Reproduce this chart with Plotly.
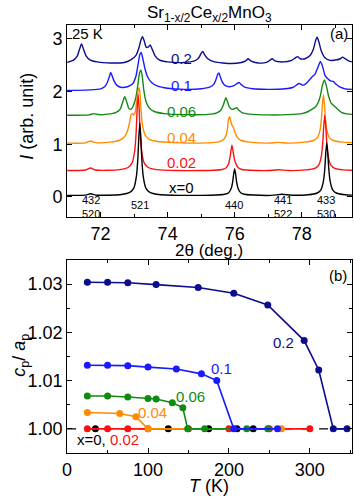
import plotly.graph_objects as go

# ---- panel (a): XRD profiles, 25 K (already stacked) ----
tt_x0 = [71.0, 71.55, 71.7, 71.85, 72.2, 72.62, 72.87, 72.99, 73.07, 73.11, 73.14, 73.17, 73.20, 73.23, 73.27, 73.35, 73.47, 73.72, 74.4, 75.0, 75.45, 75.70, 75.82, 75.90, 75.94, 75.97, 76.0, 76.03, 76.06, 76.10, 76.18, 76.30, 76.55, 77.1, 77.4, 77.7, 78.20, 78.45, 78.57, 78.65, 78.69, 78.72, 78.75, 78.78, 78.81, 78.85, 78.93, 79.05, 79.30, 79.5]
I_x0 = [0.03, 0.035, 0.06, 0.035, 0.033, 0.046, 0.085, 0.167, 0.40, 0.715, 1.126, 1.40, 1.126, 0.715, 0.40, 0.167, 0.085, 0.046, 0.03, 0.03, 0.036, 0.05, 0.08, 0.165, 0.28, 0.43, 0.53, 0.43, 0.28, 0.165, 0.08, 0.05, 0.036, 0.03, 0.05, 0.032, 0.042, 0.07, 0.13, 0.30, 0.53, 0.83, 1.03, 0.83, 0.53, 0.30, 0.13, 0.07, 0.042, 0.035]

tt_x002 = [71.0, 71.55, 71.7, 71.85, 72.2, 72.57, 72.82, 72.94, 73.02, 73.06, 73.09, 73.12, 73.15, 73.18, 73.22, 73.30, 73.42, 73.67, 74.3, 75.0, 75.37, 75.62, 75.74, 75.82, 75.86, 75.89, 75.92, 75.95, 75.98, 76.02, 76.10, 76.22, 76.47, 77.0, 77.3, 77.6, 78.14, 78.39, 78.51, 78.59, 78.63, 78.66, 78.69, 78.72, 78.75, 78.79, 78.87, 78.99, 79.24, 79.5]
I_x002 = [0.50, 0.51, 0.55, 0.51, 0.505, 0.517, 0.558, 0.645, 0.89, 1.225, 1.66, 1.95, 1.66, 1.225, 0.89, 0.645, 0.558, 0.517, 0.50, 0.50, 0.506, 0.52, 0.548, 0.63, 0.74, 0.88, 0.98, 0.88, 0.76, 0.66, 0.56, 0.52, 0.506, 0.50, 0.515, 0.50, 0.513, 0.542, 0.605, 0.78, 1.025, 1.34, 1.55, 1.34, 1.025, 0.78, 0.605, 0.542, 0.513, 0.505]

tt_x004 = [71.0, 71.55, 71.7, 71.85, 72.3, 72.55, 72.7, 72.8, 72.86, 72.91, 72.95, 72.99, 73.03, 73.07, 73.11, 73.15, 73.18, 73.21, 73.25, 73.33, 73.45, 73.7, 74.2, 75.0, 75.3, 75.55, 75.67, 75.75, 75.79, 75.82, 75.85, 75.88, 75.92, 75.96, 76.0, 76.08, 76.2, 76.45, 77.0, 77.3, 77.6, 78.1, 78.35, 78.47, 78.55, 78.59, 78.62, 78.65, 78.68, 78.71, 78.75, 78.83, 78.95, 79.2, 79.5]
I_x004 = [1.02, 1.025, 1.06, 1.03, 1.04, 1.07, 1.13, 1.25, 1.40, 1.56, 1.58, 1.55, 1.60, 1.78, 1.98, 2.07, 1.92, 1.62, 1.36, 1.17, 1.09, 1.05, 1.03, 1.02, 1.03, 1.05, 1.09, 1.18, 1.32, 1.48, 1.52, 1.44, 1.36, 1.32, 1.24, 1.13, 1.07, 1.04, 1.02, 1.035, 1.02, 1.04, 1.07, 1.12, 1.27, 1.48, 1.76, 1.94, 1.76, 1.48, 1.27, 1.12, 1.07, 1.04, 1.03]

tt_x006 = [71.0, 71.65, 71.8, 71.95, 72.2, 72.45, 72.58, 72.65, 72.72, 72.78, 72.84, 72.9, 72.97, 73.05, 73.11, 73.16, 73.2, 73.24, 73.29, 73.36, 73.46, 73.6, 73.9, 74.5, 75.2, 75.45, 75.58, 75.66, 75.70, 75.74, 75.79, 75.85, 75.92, 75.99, 76.06, 76.12, 76.22, 76.45, 77.0, 77.6, 78.0, 78.2, 78.3, 78.4, 78.5, 78.56, 78.62, 78.68, 78.74, 78.8, 78.88, 78.98, 79.08, 79.2, 79.35, 79.5]
I_x006 = [1.55, 1.555, 1.58, 1.56, 1.57, 1.60, 1.66, 1.78, 1.90, 1.80, 1.68, 1.66, 1.72, 1.88, 2.12, 2.35, 2.41, 2.30, 2.02, 1.80, 1.68, 1.62, 1.58, 1.56, 1.565, 1.59, 1.64, 1.74, 1.82, 1.88, 1.80, 1.70, 1.66, 1.67, 1.69, 1.65, 1.60, 1.57, 1.555, 1.56, 1.58, 1.62, 1.66, 1.70, 1.80, 1.92, 2.12, 2.22, 2.10, 1.92, 1.78, 1.72, 1.66, 1.60, 1.575, 1.565]

tt_x01 = [71.0, 71.7, 72.0, 72.12, 72.2, 72.26, 72.3, 72.34, 72.4, 72.48, 72.6, 72.8, 72.95, 73.05, 73.12, 73.17, 73.21, 73.26, 73.32, 73.4, 73.52, 73.7, 74.0, 74.5, 75.0, 75.25, 75.38, 75.45, 75.49, 75.53, 75.57, 75.63, 75.72, 75.85, 75.98, 76.07, 76.13, 76.2, 76.3, 76.55, 77.0, 77.5, 77.75, 77.92, 78.05, 78.18, 78.3, 78.4, 78.48, 78.56, 78.63, 78.7, 78.78, 78.86, 78.94, 79.02, 79.15, 79.3, 79.5]
I_x01 = [2.02, 2.03, 2.05, 2.09, 2.17, 2.28, 2.36, 2.30, 2.20, 2.12, 2.08, 2.09, 2.14, 2.28, 2.52, 2.70, 2.74, 2.62, 2.44, 2.28, 2.17, 2.10, 2.06, 2.04, 2.05, 2.08, 2.14, 2.24, 2.32, 2.35, 2.28, 2.18, 2.11, 2.09, 2.11, 2.15, 2.17, 2.13, 2.08, 2.05, 2.04, 2.05, 2.08, 2.15, 2.12, 2.18, 2.27, 2.33, 2.45, 2.57, 2.46, 2.30, 2.24, 2.20, 2.19, 2.14, 2.08, 2.05, 2.04]

tt_x02 = [71.0, 71.2, 71.3, 71.37, 71.43, 71.49, 71.56, 71.68, 71.9, 72.3, 72.7, 72.9, 73.05, 73.14, 73.2, 73.25, 73.3, 73.36, 73.42, 73.48, 73.54, 73.62, 73.75, 74.0, 74.5, 74.8, 74.92, 75.0, 75.05, 75.1, 75.2, 75.4, 75.9, 76.2, 76.33, 76.4, 76.48, 76.7, 76.95, 77.05, 77.12, 77.2, 77.45, 77.7, 77.82, 77.88, 77.96, 78.1, 78.25, 78.35, 78.41, 78.46, 78.51, 78.58, 78.68, 78.85, 79.05, 79.15, 79.22, 79.3, 79.4, 79.5]
I_x02 = [2.55, 2.60, 2.67, 2.80, 2.90, 2.80, 2.68, 2.60, 2.56, 2.54, 2.55, 2.60, 2.68, 2.82, 2.97, 3.04, 2.96, 2.84, 2.84, 2.88, 2.80, 2.68, 2.60, 2.56, 2.55, 2.58, 2.63, 2.72, 2.76, 2.70, 2.62, 2.56, 2.53, 2.55, 2.58, 2.62, 2.58, 2.54, 2.55, 2.59, 2.62, 2.58, 2.56, 2.59, 2.64, 2.66, 2.62, 2.62, 2.68, 2.80, 2.95, 3.03, 2.95, 2.78, 2.65, 2.59, 2.60, 2.62, 2.65, 2.62, 2.58, 2.56]

# Miller indices under the peaks
hkl_pos = [71.7, 73.18, 75.97, 77.44, 78.74]
hkl_text = ["432<br>520", "521", "440", "441<br>522", "433<br>530"]

# ---- panel (b): cp/ap vs T ----
T_02 = [25, 50, 75, 110, 162, 206, 248, 293, 311, 329, 346]
r_02 = [1.0304, 1.0304, 1.0303, 1.0299, 1.0293, 1.0281, 1.0257, 1.0183, 1.0122, 1.0000, 1.0000]
T_01 = [25, 50, 75, 100, 135, 166, 185, 206, 260]
r_01 = [1.0132, 1.0132, 1.0131, 1.0128, 1.0124, 1.0114, 1.0100, 1.0000, 1.0000]
T_006 = [25, 50, 75, 100, 110, 130, 143, 149, 170, 222, 248]
r_006 = [1.0068, 1.0068, 1.0066, 1.0063, 1.0062, 1.0054, 1.0044, 1.0000, 1.0000, 1.0000, 1.0000]
T_004 = [25, 65, 85, 100, 265]
r_004 = [1.0034, 1.0032, 1.0025, 1.0000, 1.0000]
T_002 = [25, 50, 75, 100, 150, 200, 250, 300]
r_002 = [1.0, 1.0, 1.0, 1.0, 1.0, 1.0, 1.0, 1.0]
T_0 = [35, 125, 175, 210, 230]
r_0 = [1.0, 1.0, 1.0, 1.0, 1.0]

NAVY = "#0c0c8e"
BLUE = "#1a1aff"
GREEN = "#128a12"
ORANGE = "#ff8c00"
RED = "#ff1010"
BLACK = "#000000"
FONT = "Liberation Sans, Arial, sans-serif"

fig = go.Figure()

xrd = [
    (tt_x02, I_x02, NAVY),
    (tt_x01, I_x01, BLUE),
    (tt_x006, I_x006, GREEN),
    (tt_x004, I_x004, ORANGE),
    (tt_x002, I_x002, RED),
    (tt_x0, I_x0, BLACK),
]
for xs, ys, col in xrd:
    fig.add_trace(go.Scatter(x=xs, y=ys, mode="lines", xaxis="x", yaxis="y",
                             line=dict(color=col, width=1.4, shape="spline", smoothing=0.6),
                             showlegend=False, hoverinfo="skip"))

# dashed reference at 1.00
fig.add_trace(go.Scatter(x=[0, 352], y=[1.0, 1.0], mode="lines", xaxis="x2", yaxis="y2",
                         line=dict(color=BLACK, width=1.2, dash="dash"), showlegend=False))

ratio = [
    (T_0, r_0, BLACK, "markers"),
    (T_002, r_002, RED, "lines+markers"),
    (T_004, r_004, ORANGE, "lines+markers"),
    (T_006, r_006, GREEN, "lines+markers"),
    (T_01, r_01, BLUE, "lines+markers"),
    (T_02, r_02, NAVY, "lines+markers"),
]
for xs, ys, col, mode in ratio:
    fig.add_trace(go.Scatter(x=xs, y=ys, mode=mode, xaxis="x2", yaxis="y2",
                             line=dict(color=col, width=1.6),
                             marker=dict(color=col, size=7),
                             showlegend=False))

ax = dict(showline=True, linecolor="black", linewidth=1, mirror="ticks",
          ticks="inside", ticklen=5, tickcolor="black", showgrid=False, zeroline=False,
          tickfont=dict(family=FONT, size=18, color="black"))
minor = dict(ticks="inside", ticklen=3, tickcolor="black", showgrid=False)

fig.update_layout(
    width=354, height=498,
    margin=dict(l=0, r=0, t=0, b=0),
    paper_bgcolor="white", plot_bgcolor="white",
    font=dict(family=FONT, color="black"),
    xaxis=dict(ax, domain=[0.178, 0.994], anchor="y", range=[71, 79.5],
               tickvals=[72, 74, 76, 78], minor=dict(minor, dtick=1, tick0=71)),
    yaxis=dict(ax, domain=[0.5643, 0.9498], anchor="x", range=[-0.38, 3.26],
               tickvals=[0, 1, 2, 3]),
    xaxis2=dict(ax, domain=[0.178, 0.994], anchor="y2", range=[0, 352],
                tickvals=[0, 100, 200, 300], minor=dict(minor, dtick=50, tick0=0)),
    yaxis2=dict(ax, domain=[0.0904, 0.4779], anchor="x2", range=[0.995, 1.035],
                tickvals=[1.00, 1.01, 1.02, 1.03], ticktext=["1.00", "1.01", "1.02", "1.03"],
                minor=dict(minor, dtick=0.005, tick0=1.0)),
)

C = dict(xanchor="center", yanchor="middle", showarrow=False)
ann = []
# titles and axis labels (pixel spots turned into paper fractions)
ann.append(dict(C, x=207 / 354, y=1 - 14 / 498, xref="paper", yref="paper",
                text="Sr<sub>1-x/2</sub>Ce<sub>x/2</sub>MnO<sub>3</sub>", font=dict(size=17)))
ann.append(dict(C, x=207 / 354, y=1 - 250 / 498, xref="paper", yref="paper",
                text="2θ (deg.)", font=dict(size=17)))
ann.append(dict(C, x=207 / 354, y=1 - 486 / 498, xref="paper", yref="paper",
                text="<i>T</i> (K)", font=dict(size=18)))
ann.append(dict(C, x=22 / 354, y=1 - 116 / 498, xref="paper", yref="paper",
                text="<i>I</i> (arb. unit)", textangle=-90, font=dict(size=18)))
ann.append(dict(C, x=15 / 354, y=1 - 355 / 498, xref="paper", yref="paper",
                text="<i>c</i><sub>p</sub>/ <i>a</i><sub>p</sub>", textangle=-90, font=dict(size=18)))

# panel (a) labels
ann.append(dict(C, x=71.08, y=3.09, xref="x", yref="y", xanchor="left",
                text="25 K", font=dict(size=15)))
ann.append(dict(C, x=79.45, y=3.1, xref="x", yref="y", xanchor="right",
                text="(a)", font=dict(size=15)))
for txt, yy, col in [("0.2", 2.62, NAVY), ("0.1", 2.12, BLUE), ("0.06", 1.62, GREEN),
                     ("0.04", 1.13, ORANGE), ("0.02", 0.66, RED), ("x=0", 0.17, BLACK)]:
    ann.append(dict(C, x=74.42, y=yy, xref="x", yref="y", text=txt,
                    font=dict(size=15, color=col)))
for pos, txt in zip(hkl_pos, hkl_text):
    two = "<br>" in txt
    ann.append(dict(C, x=pos, y=-0.2 if two else -0.15, xref="x", yref="y",
                    text=txt, font=dict(size=11)))

# panel (b) labels
ann.append(dict(C, x=348, y=1.0318, xref="x2", yref="y2", xanchor="right",
                text="(b)", font=dict(size=15)))
for txt, xx, yy, col in [("0.2", 267, 1.0178, NAVY), ("0.1", 191, 1.0126, BLUE),
                         ("0.06", 152, 1.0068, GREEN), ("0.04", 106, 1.0034, ORANGE)]:
    ann.append(dict(C, x=xx, y=yy, xref="x2", yref="y2", text=txt,
                    font=dict(size=15, color=col)))
ann.append(dict(C, x=10, y=0.9977, xref="x2", yref="y2", xanchor="left",
                text="x=0, <span style='color:%s'>0.02</span>" % RED, font=dict(size=15)))

fig.update_layout(annotations=ann)
fig.write_html("out.html", config={"displayModeBar": False},
               post_script="document.body.style.margin='0';document.body.style.overflow='hidden';")
